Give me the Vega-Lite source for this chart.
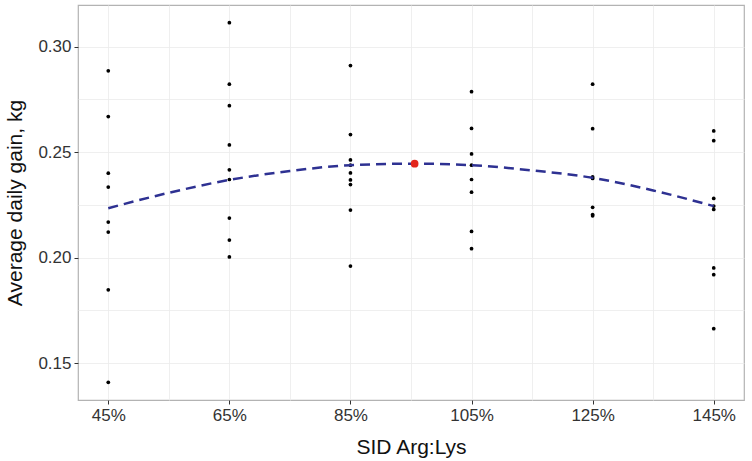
{
  "$schema": "https://vega.github.io/schema/vega-lite/v6.json",
  "width": 752,
  "height": 461,
  "autosize": {"type": "fit", "contains": "padding"},
  "padding": {"left": 4, "right": 8, "top": 5, "bottom": 4},
  "datasets": {
    "obs": [
      {"sid": 45, "adg": 0.2885}, {"sid": 45, "adg": 0.2668}, {"sid": 45, "adg": 0.240}, {"sid": 45, "adg": 0.2334},
      {"sid": 45, "adg": 0.2168}, {"sid": 45, "adg": 0.2121}, {"sid": 45, "adg": 0.1847}, {"sid": 45, "adg": 0.1409},
      {"sid": 65, "adg": 0.3113}, {"sid": 65, "adg": 0.2822}, {"sid": 65, "adg": 0.2720}, {"sid": 65, "adg": 0.2534},
      {"sid": 65, "adg": 0.2416}, {"sid": 65, "adg": 0.2370}, {"sid": 65, "adg": 0.2187}, {"sid": 65, "adg": 0.2083}, {"sid": 65, "adg": 0.2003},
      {"sid": 85, "adg": 0.2910}, {"sid": 85, "adg": 0.2583}, {"sid": 85, "adg": 0.2463}, {"sid": 85, "adg": 0.2438},
      {"sid": 85, "adg": 0.2401}, {"sid": 85, "adg": 0.2368}, {"sid": 85, "adg": 0.2346}, {"sid": 85, "adg": 0.2225}, {"sid": 85, "adg": 0.1960},
      {"sid": 105, "adg": 0.2786}, {"sid": 105, "adg": 0.2612}, {"sid": 105, "adg": 0.2491}, {"sid": 105, "adg": 0.2438},
      {"sid": 105, "adg": 0.2370}, {"sid": 105, "adg": 0.2310}, {"sid": 105, "adg": 0.2124}, {"sid": 105, "adg": 0.2042},
      {"sid": 125, "adg": 0.2822}, {"sid": 125, "adg": 0.2611}, {"sid": 125, "adg": 0.2382}, {"sid": 125, "adg": 0.2375},
      {"sid": 125, "adg": 0.2238}, {"sid": 125, "adg": 0.2204}, {"sid": 125, "adg": 0.2198},
      {"sid": 145, "adg": 0.2600}, {"sid": 145, "adg": 0.2554}, {"sid": 145, "adg": 0.2280}, {"sid": 145, "adg": 0.2244},
      {"sid": 145, "adg": 0.2228}, {"sid": 145, "adg": 0.1951}, {"sid": 145, "adg": 0.1919}, {"sid": 145, "adg": 0.1663}
    ],
    "fit": [
      {"sid": 45, "adg": 0.2234}, {"sid": 55, "adg": 0.2307}, {"sid": 65, "adg": 0.2368}, {"sid": 75, "adg": 0.2410},
      {"sid": 85, "adg": 0.2438}, {"sid": 95.6, "adg": 0.2445}, {"sid": 105, "adg": 0.2438}, {"sid": 115, "adg": 0.2413},
      {"sid": 125, "adg": 0.2378}, {"sid": 135, "adg": 0.2318}, {"sid": 145, "adg": 0.2244}
    ],
    "peak": [{"sid": 95.6, "adg": 0.2445}]
  },
  "encoding": {
    "x": {
      "field": "sid", "type": "quantitative",
      "scale": {"domain": [40, 150], "nice": false, "zero": false},
      "title": "SID Arg:Lys",
      "axis": {
        "values": [45, 55, 65, 75, 85, 95, 105, 115, 125, 135, 145],
        "labelExpr": "(datum.value - 45) % 20 == 0 ? datum.value + '%' : ''",
        "tickColor": {"condition": {"test": "(datum.value - 45) % 20 == 0", "value": "#333"}, "value": "transparent"}
      }
    },
    "y": {
      "field": "adg", "type": "quantitative",
      "scale": {"domain": [0.1325, 0.3197], "nice": false, "zero": false},
      "title": "Average daily gain, kg",
      "axis": {
        "values": [0.15, 0.175, 0.2, 0.225, 0.25, 0.275, 0.3],
        "labelExpr": "datum.value * 40 % 2 == 0 ? format(datum.value, '.2f') : ''",
        "tickColor": {"condition": {"test": "datum.value * 40 % 2 == 0", "value": "#333"}, "value": "transparent"}
      }
    }
  },
  "layer": [
    {"data": {"name": "obs"}, "mark": {"type": "circle", "size": 14, "color": "black", "opacity": 1}},
    {"data": {"name": "fit"}, "mark": {"type": "line", "interpolate": "monotone", "color": "#2e3192", "strokeWidth": 2.5, "strokeDash": [10, 6]}},
    {"data": {"name": "peak"}, "mark": {"type": "circle", "size": 60, "color": "#e3261c", "opacity": 1}}
  ],
  "config": {
    "font": "Liberation Sans",
    "view": {"stroke": "#b3b3b3", "strokeWidth": 1.2},
    "axis": {
      "grid": true, "gridColor": "#ebebeb", "gridWidth": 0.8,
      "domain": false, "tickSize": 4,
      "labelFontSize": 17, "labelColor": "#333", "labelPadding": 3,
      "titleFontSize": 21, "titleFontWeight": "normal", "titleColor": "#111"
    },
    "axisX": {"titlePadding": 13},
    "axisY": {"titlePadding": 12}
  }
}
